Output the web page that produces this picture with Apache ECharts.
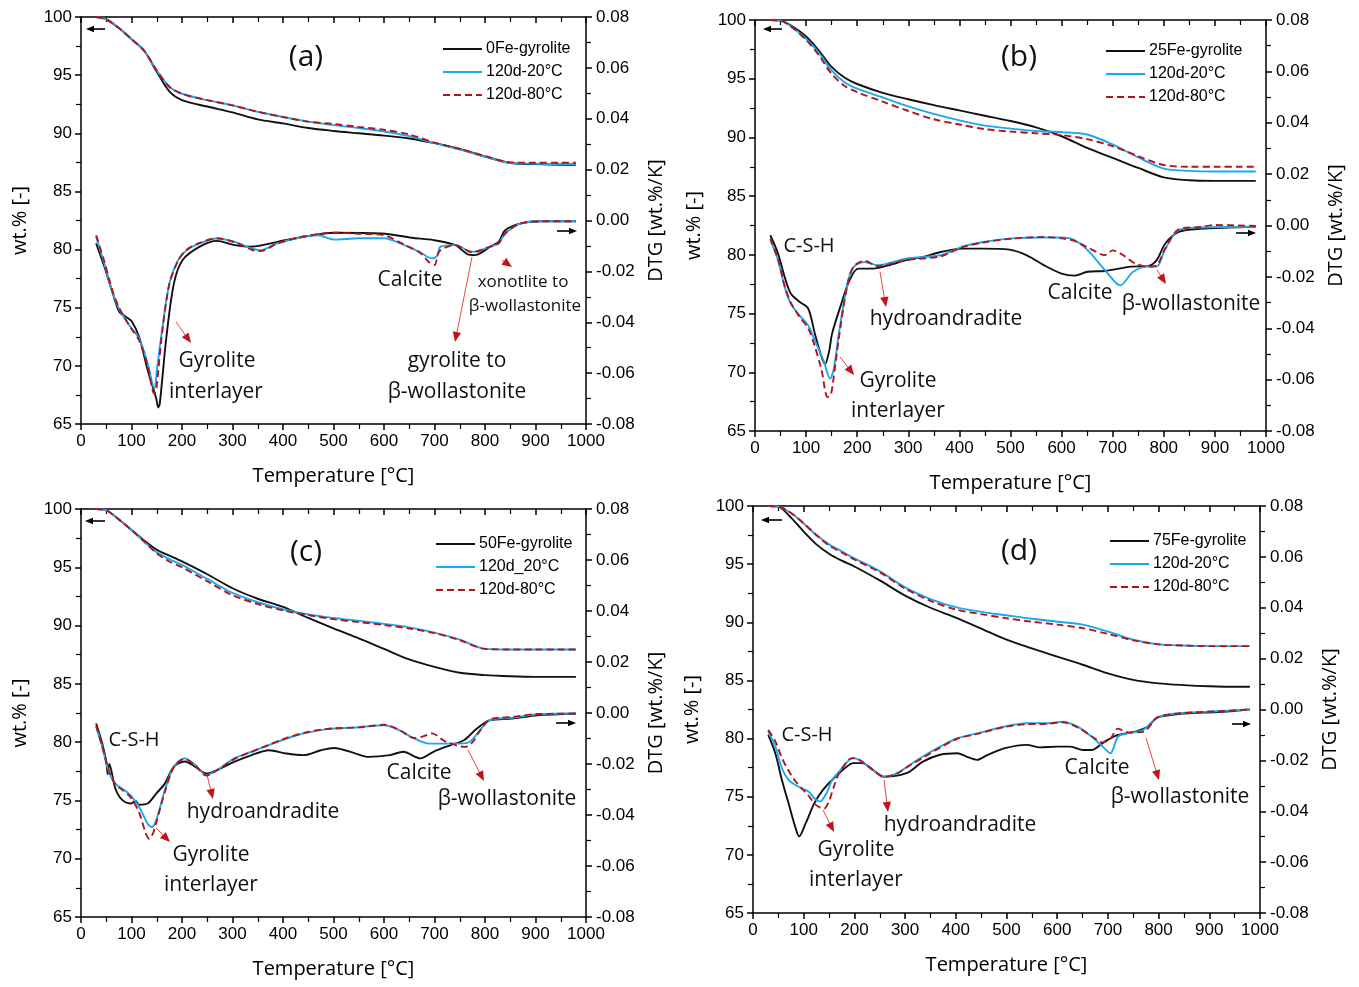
<!DOCTYPE html>
<html lang="en">
<head>
<meta charset="UTF-8">
<title>TG / DTG gyrolite</title>
<script src="https://cdn.jsdelivr.net/npm/echarts@6/dist/echarts.min.js"></script>
<style>html,body{margin:0;background:#fff}</style>
</head>
<body>
<div id="main" style="width:1359px;height:987px"></div>
<script>
// temperature grid shared by the TG curves
var tgT = [30, 50, 75, 100, 125, 150, 175, 200, 250, 300, 350, 400, 450, 500, 550, 600, 650, 700, 750, 800, 850, 900, 950, 980];

// (a) 0Fe
var tgA_fe = [100, 99.8, 99.05, 98.1, 97.1, 95.3, 93.6, 92.85, 92.3, 91.8, 91.2, 90.85, 90.45, 90.2, 90.0, 89.8, 89.55, 89.15, 88.65, 88.0, 87.45, 87.35, 87.3, 87.3];
var tgA_20 = [100, 99.8, 99.05, 98.1, 97.1, 95.4, 94.0, 93.4, 92.85, 92.4, 91.85, 91.4, 91.0, 90.7, 90.45, 90.15, 89.75, 89.15, 88.6, 88.0, 87.45, 87.38, 87.36, 87.36];
var tgA_80 = [100, 99.8, 99.05, 98.1, 97.1, 95.4, 94.0, 93.4, 92.85, 92.4, 91.85, 91.4, 91.0, 90.8, 90.55, 90.3, 89.9, 89.2, 88.65, 88.05, 87.5, 87.47, 87.47, 87.47];
var dtgA_fe = [[30,-0.009],[46,-0.018],[63,-0.0287],[76,-0.036],[90,-0.038],[100,-0.0395],[115,-0.0457],[132,-0.0588],[149,-0.070],[153,-0.0735],[156,-0.072],[169,-0.046],[184,-0.0247],[201,-0.0156],[235,-0.0103],[269,-0.008],[304,-0.0097],[338,-0.0103],[389,-0.0084],[441,-0.0064],[501,-0.0048],[595,-0.0051],[655,-0.0068],[698,-0.0077],[741,-0.0097],[765,-0.0132],[780,-0.0136],[792,-0.0127],[810,-0.0103],[827,-0.0084],[840,-0.0038],[870,-0.0012],[913,-0.0003],[980,-0.0003]];
var dtgA_20 = [[30,-0.0064],[46,-0.0169],[63,-0.0287],[76,-0.035],[98,-0.0419],[115,-0.0463],[132,-0.0562],[145,-0.066],[151,-0.0575],[160,-0.044],[175,-0.0247],[192,-0.0156],[209,-0.0117],[235,-0.009],[269,-0.0071],[304,-0.0084],[338,-0.011],[355,-0.0117],[389,-0.009],[441,-0.0064],[470,-0.0058],[501,-0.0075],[550,-0.007],[600,-0.007],[640,-0.0097],[670,-0.0123],[695,-0.0149],[705,-0.014],[712,-0.0103],[741,-0.0097],[775,-0.0123],[810,-0.0103],[827,-0.009],[840,-0.0051],[870,-0.0012],[913,-0.0003],[980,-0.0003]];
var dtgA_80 = [[30,-0.0058],[46,-0.016],[63,-0.028],[76,-0.0345],[98,-0.042],[115,-0.047],[132,-0.057],[145,-0.068],[149,-0.0665],[160,-0.045],[175,-0.025],[192,-0.016],[209,-0.0115],[235,-0.0088],[269,-0.007],[304,-0.0085],[338,-0.0115],[355,-0.012],[389,-0.009],[441,-0.0063],[501,-0.0048],[550,-0.0052],[600,-0.0058],[640,-0.0095],[670,-0.0125],[690,-0.0165],[700,-0.0175],[710,-0.012],[741,-0.0097],[775,-0.0125],[810,-0.0103],[827,-0.009],[840,-0.005],[870,-0.0012],[913,-0.0003],[980,-0.0003]];

// (b) 25Fe
var tgB_fe = [100, 99.95, 99.4, 98.6, 97.4, 96.0, 95.1, 94.55, 93.8, 93.25, 92.75, 92.3, 91.85, 91.4, 90.85, 90.1, 89.1, 88.25, 87.4, 86.6, 86.35, 86.3, 86.3, 86.3];
var tgB_20 = [100, 99.95, 99.3, 98.4, 97.2, 95.7, 94.7, 94.15, 93.4, 92.65, 92.0, 91.45, 91.0, 90.75, 90.55, 90.45, 90.25, 89.4, 88.3, 87.35, 87.15, 87.1, 87.1, 87.1];
var tgB_80 = [100, 99.95, 99.3, 98.3, 97.0, 95.4, 94.4, 93.85, 93.05, 92.25, 91.55, 91.1, 90.7, 90.5, 90.35, 90.2, 89.85, 89.25, 88.4, 87.65, 87.5, 87.5, 87.5, 87.5];
var dtgB_fe = [[30,-0.0038],[45,-0.0109],[58,-0.020],[70,-0.0265],[87,-0.0297],[104,-0.0323],[117,-0.042],[130,-0.051],[137,-0.054],[145,-0.049],[151,-0.042],[168,-0.031],[185,-0.0213],[202,-0.0168],[227,-0.0168],[261,-0.0155],[295,-0.0135],[329,-0.0122],[363,-0.0103],[405,-0.009],[447,-0.009],[498,-0.0094],[532,-0.0116],[566,-0.0155],[600,-0.0187],[625,-0.0195],[651,-0.018],[685,-0.0177],[736,-0.016],[769,-0.0158],[786,-0.0135],[803,-0.007],[829,-0.0025],[871,-0.0013],[980,-0.0005]];
var dtgB_20 = [[30,-0.0057],[45,-0.0135],[58,-0.0239],[70,-0.0304],[87,-0.035],[104,-0.0388],[117,-0.0447],[134,-0.0525],[147,-0.0596],[155,-0.055],[164,-0.042],[181,-0.0226],[193,-0.0161],[215,-0.0142],[240,-0.0155],[295,-0.0129],[363,-0.0116],[405,-0.0083],[447,-0.0064],[498,-0.0051],[566,-0.0047],[600,-0.0047],[625,-0.0057],[651,-0.0096],[685,-0.0174],[715,-0.0233],[740,-0.018],[769,-0.016],[786,-0.016],[803,-0.009],[829,-0.0018],[871,-0.0008],[980,-0.0005]];
var dtgB_80 = [[30,-0.005],[45,-0.013],[58,-0.0235],[70,-0.030],[87,-0.0355],[104,-0.040],[117,-0.047],[130,-0.056],[142,-0.0668],[148,-0.066],[152,-0.062],[164,-0.044],[181,-0.023],[193,-0.016],[215,-0.0138],[240,-0.0158],[295,-0.0135],[363,-0.012],[405,-0.0085],[447,-0.0066],[498,-0.0052],[566,-0.0045],[600,-0.005],[625,-0.006],[651,-0.0085],[685,-0.0115],[700,-0.0097],[720,-0.0115],[744,-0.0148],[770,-0.016],[786,-0.0155],[803,-0.009],[829,-0.0015],[871,-0.0006],[900,0.0002],[980,-0.0002]];

// (c) 50Fe
var tgC_fe = [100, 99.9, 99.1, 98.2, 97.3, 96.5, 96.0, 95.5, 94.4, 93.2, 92.3, 91.6, 90.65, 89.75, 88.9, 88.0, 87.1, 86.45, 85.95, 85.75, 85.65, 85.6, 85.6, 85.6];
var tgC_20 = [100, 99.9, 99.1, 98.2, 97.2, 96.3, 95.7, 95.2, 94.0, 92.8, 92.0, 91.4, 90.95, 90.65, 90.4, 90.15, 89.85, 89.4, 88.8, 88.0, 87.95, 87.95, 87.95, 87.95];
var tgC_80 = [100, 99.9, 99.1, 98.2, 97.2, 96.2, 95.5, 95.0, 93.8, 92.6, 91.85, 91.3, 90.9, 90.55, 90.3, 90.05, 89.75, 89.35, 88.75, 88.0, 87.95, 87.95, 87.95, 87.95];
var dtgC_fe = [[30,-0.0041],[42,-0.012],[50,-0.019],[53,-0.024],[56,-0.020],[68,-0.0296],[81,-0.034],[98,-0.0355],[108,-0.0345],[115,-0.036],[132,-0.0355],[149,-0.0316],[166,-0.0277],[184,-0.021],[205,-0.019],[226,-0.021],[248,-0.0237],[269,-0.0224],[304,-0.0191],[338,-0.0165],[372,-0.0146],[407,-0.0159],[441,-0.0165],[475,-0.0146],[501,-0.0137],[544,-0.0159],[569,-0.0172],[612,-0.0165],[638,-0.0152],[672,-0.0178],[698,-0.0152],[732,-0.0126],[758,-0.0107],[784,-0.0061],[810,-0.0028],[853,-0.0022],[904,-0.0009],[980,-0.0002]];
var dtgC_20 = [[30,-0.0054],[42,-0.0133],[55,-0.0231],[68,-0.0277],[81,-0.0296],[98,-0.0322],[115,-0.0368],[132,-0.0434],[140,-0.0447],[149,-0.042],[166,-0.0303],[184,-0.021],[205,-0.0178],[226,-0.0204],[248,-0.0244],[269,-0.0224],[304,-0.0178],[338,-0.0152],[372,-0.0126],[407,-0.01],[441,-0.008],[475,-0.0067],[501,-0.0061],[544,-0.0057],[569,-0.0052],[600,-0.0048],[630,-0.0067],[660,-0.01],[690,-0.012],[720,-0.012],[750,-0.012],[770,-0.0113],[790,-0.0067],[810,-0.0028],[853,-0.0019],[904,-0.0005],[980,-0.0002]];
var dtgC_80 = [[30,-0.005],[42,-0.013],[55,-0.0225],[68,-0.028],[81,-0.030],[98,-0.033],[115,-0.039],[128,-0.047],[135,-0.0493],[143,-0.047],[149,-0.043],[166,-0.031],[184,-0.0212],[205,-0.018],[226,-0.0205],[248,-0.0245],[269,-0.0225],[304,-0.018],[338,-0.0152],[372,-0.0125],[407,-0.0098],[441,-0.0078],[475,-0.0065],[501,-0.006],[544,-0.0057],[569,-0.0052],[600,-0.0046],[630,-0.0066],[660,-0.0098],[680,-0.009],[695,-0.008],[720,-0.011],[760,-0.0133],[775,-0.0115],[790,-0.007],[810,-0.0025],[853,-0.0016],[904,-0.0004],[980,-0.0003]];

// (d) 75Fe
var tgD_fe = [100, 99.95, 99.0, 97.8, 96.7, 95.9, 95.3, 94.8, 93.6, 92.3, 91.25, 90.4, 89.45, 88.5, 87.75, 87.05, 86.35, 85.6, 85.05, 84.75, 84.6, 84.5, 84.45, 84.45];
var tgD_20 = [100, 99.95, 99.4, 98.5, 97.5, 96.7, 96.1, 95.5, 94.4, 93.0, 92.0, 91.3, 90.9, 90.6, 90.3, 90.05, 89.8, 89.2, 88.5, 88.1, 88.0, 87.95, 87.95, 87.95];
var tgD_80 = [100, 99.95, 99.4, 98.5, 97.5, 96.6, 96.0, 95.4, 94.3, 92.9, 91.85, 91.1, 90.7, 90.35, 90.05, 89.8, 89.5, 89.0, 88.45, 88.1, 88.0, 87.95, 87.95, 87.95];
var dtgD_fe = [[30,-0.01],[44,-0.0172],[57,-0.0277],[70,-0.0368],[83,-0.046],[91,-0.0499],[104,-0.0447],[121,-0.0368],[138,-0.0316],[156,-0.0277],[181,-0.0231],[198,-0.0211],[215,-0.0211],[241,-0.0244],[258,-0.0264],[284,-0.026],[309,-0.0244],[335,-0.0205],[369,-0.0178],[403,-0.0172],[421,-0.0185],[442,-0.0198],[463,-0.0178],[497,-0.0152],[540,-0.0139],[566,-0.0149],[600,-0.0146],[626,-0.0146],[651,-0.0159],[668,-0.0159],[694,-0.0126],[720,-0.01],[754,-0.0087],[779,-0.0067],[797,-0.0032],[839,-0.0018],[925,-0.0009],[980,0]];
var dtgD_20 = [[30,-0.0087],[44,-0.0146],[57,-0.0231],[70,-0.0277],[83,-0.0296],[96,-0.031],[110,-0.0323],[121,-0.0349],[132,-0.0362],[145,-0.0329],[156,-0.0277],[170,-0.0244],[190,-0.0198],[200,-0.0192],[215,-0.0205],[241,-0.0244],[258,-0.0266],[284,-0.025],[309,-0.0218],[335,-0.0185],[369,-0.0146],[403,-0.0113],[442,-0.0094],[497,-0.0067],[540,-0.0054],[583,-0.0054],[610,-0.0048],[640,-0.0067],[668,-0.0107],[690,-0.0146],[705,-0.0172],[720,-0.0107],[740,-0.0094],[770,-0.008],[797,-0.0032],[839,-0.0015],[925,-0.0006],[980,0]];
var dtgD_80 = [[30,-0.008],[44,-0.0125],[57,-0.019],[70,-0.024],[83,-0.028],[96,-0.031],[110,-0.034],[121,-0.037],[132,-0.0385],[140,-0.039],[150,-0.036],[160,-0.030],[170,-0.025],[190,-0.0195],[200,-0.019],[215,-0.0205],[241,-0.0245],[258,-0.0265],[284,-0.0252],[309,-0.022],[335,-0.019],[369,-0.015],[403,-0.0115],[442,-0.0096],[497,-0.0068],[540,-0.0058],[583,-0.0056],[610,-0.005],[640,-0.007],[668,-0.0105],[690,-0.013],[705,-0.0115],[720,-0.0075],[740,-0.009],[770,-0.0088],[797,-0.0032],[839,-0.0016],[925,-0.0006],[980,0]];

var namesA = ['0Fe-gyrolite', '120d-20°C', '120d-80°C'];
var namesB = ['25Fe-gyrolite', '120d-20°C', '120d-80°C'];
var namesC = ['50Fe-gyrolite', '120d_20°C', '120d-80°C'];
var namesD = ['75Fe-gyrolite', '120d-20°C', '120d-80°C'];

var FONT_NUM = '"Liberation Sans", Arial, sans-serif';
var FONT_TXT = '"Open Sans", "Noto Sans", sans-serif';
var COLORS = ['#111111', '#1ba9ee', '#b3141c'];

var panels = [
    {box: [81, 17, 505, 407], names: namesA, tg: [tgA_fe, tgA_20, tgA_80], dtg: [dtgA_fe, dtgA_20, dtgA_80], legend: [437, 36]},
    {box: [755, 20, 511, 411], names: namesB, tg: [tgB_fe, tgB_20, tgB_80], dtg: [dtgB_fe, dtgB_20, dtgB_80], legend: [1100, 38]},
    {box: [81, 509, 505, 408], names: namesC, tg: [tgC_fe, tgC_20, tgC_80], dtg: [dtgC_fe, dtgC_20, dtgC_80], legend: [430, 531]},
    {box: [753, 506, 507, 407], names: namesD, tg: [tgD_fe, tgD_20, tgD_80], dtg: [dtgD_fe, dtgD_20, dtgD_80], legend: [1104, 528]}
];

// annotation texts: [text, x, y, size]
var labels = [
    ['(a)', 306, 57, 30], ['Gyrolite', 217, 361, 21], ['interlayer', 216, 392, 21], ['Calcite', 410, 280, 21],
    ['xonotlite to', 523, 282, 17], ['β-wollastonite', 525, 306, 17], ['gyrolite to', 457, 361, 21], ['β-wollastonite', 457, 392, 21],
    ['(b)', 1019, 57, 30], ['C-S-H', 809, 246, 20], ['hydroandradite', 946, 319, 21], ['Gyrolite', 898, 381, 21],
    ['interlayer', 898, 411, 21], ['Calcite', 1080, 293, 21], ['β-wollastonite', 1191, 304, 21],
    ['(c)', 306, 552, 30], ['C-S-H', 134, 740, 20], ['hydroandradite', 263, 812, 21], ['Gyrolite', 211, 855, 21],
    ['interlayer', 211, 885, 21], ['Calcite', 419, 773, 21], ['β-wollastonite', 507, 799, 21],
    ['(d)', 1019, 551, 30], ['C-S-H', 807, 735, 20], ['hydroandradite', 960, 825, 21], ['Gyrolite', 856, 850, 21],
    ['interlayer', 856, 880, 21], ['Calcite', 1097, 768, 21], ['β-wollastonite', 1180, 797, 21]
];
// red pointer arrows: [x1, y1, x2, y2]
var pointers = [
    [176, 322, 191, 343], [472, 257, 455, 342], [502, 260, 512, 267],
    [880, 272, 886, 307], [840, 357, 854, 375], [1157, 270, 1166, 284],
    [207, 775, 213, 799], [156, 828, 170, 842], [468, 750, 484, 781],
    [884, 780, 888, 812], [823, 810, 834, 832], [1146, 738, 1159, 780]
];
// black axis arrows
var axisArrows = [
    [105, 29, 86, 29], [557, 231, 577, 231],
    [782, 29, 763, 29], [1236, 233, 1256, 233],
    [105, 521, 85, 521], [556, 723, 576, 723],
    [782, 520, 761, 520], [1232, 724, 1251, 724]
];

function arrowEls(a, lineColor, headColor, lw, head) {
    var x1 = a[0], y1 = a[1], x2 = a[2], y2 = a[3];
    var dx = x2 - x1, dy = y2 - y1, len = Math.sqrt(dx * dx + dy * dy);
    var ux = dx / len, uy = dy / len;
    var bx = x2 - ux * head, by = y2 - uy * head;
    var w = head * 0.42;
    return [
        {type: 'line', shape: {x1: x1, y1: y1, x2: bx + ux * 1, y2: by + uy * 1}, style: {stroke: lineColor, lineWidth: lw}, silent: true},
        {type: 'polygon', shape: {points: [[x2, y2], [bx - uy * w, by + ux * w], [bx + uy * w, by - ux * w]]}, style: {fill: headColor}, silent: true}
    ];
}

var grids = [], xAxes = [], yAxes = [], series = [], legends = [], graphics = [];
var axisLineStyle = {color: '#000', width: 1.5};
panels.forEach(function (p, i) {
    grids.push({left: p.box[0], top: p.box[1], width: p.box[2], height: p.box[3]});
    xAxes.push({
        gridIndex: i, type: 'value', min: 0, max: 1000, interval: 100, position: 'bottom',
        name: 'Temperature [°C]', nameLocation: 'middle', nameGap: 42,
        nameTextStyle: {fontFamily: FONT_TXT, fontSize: 20, color: '#000'},
        axisLine: {onZero: false, lineStyle: axisLineStyle},
        axisTick: {length: 6, lineStyle: {color: '#000', width: 1.5}},
        minorTick: {show: true, splitNumber: 2, length: 5, lineStyle: {color: '#000', width: 1.2}},
        splitLine: {show: false},
        axisLabel: {fontFamily: FONT_NUM, fontSize: 17, color: '#000', margin: 9, formatter: function (v) { return String(v); }}
    });
    xAxes.push({
        gridIndex: i, type: 'value', min: 0, max: 1000, interval: 100, position: 'top',
        axisLine: {onZero: false, lineStyle: axisLineStyle},
        axisTick: {inside: true, length: 6, lineStyle: {color: '#000', width: 1.5}},
        minorTick: {show: true, splitNumber: 2, length: 5, lineStyle: {color: '#000', width: 1.2}},
        splitLine: {show: false}, axisLabel: {show: false}
    });
    yAxes.push({
        gridIndex: i, type: 'value', min: 65, max: 100, interval: 5, position: 'left',
        name: 'wt.% [-]', nameLocation: 'middle', nameRotate: 90, nameGap: 51,
        nameTextStyle: {fontFamily: FONT_TXT, fontSize: 20, color: '#000'},
        axisLine: {show: true, onZero: false, lineStyle: axisLineStyle},
        axisTick: {length: 6, lineStyle: {color: '#000', width: 1.5}},
        minorTick: {show: true, splitNumber: 2, length: 5, lineStyle: {color: '#000', width: 1.2}},
        splitLine: {show: false},
        axisLabel: {fontFamily: FONT_NUM, fontSize: 17, color: '#000', margin: 9}
    });
    yAxes.push({
        gridIndex: i, type: 'value', min: -0.08, max: 0.08, interval: 0.02, position: 'right',
        name: 'DTG [wt.%/K]', nameLocation: 'middle', nameRotate: 90, nameGap: 60,
        nameTextStyle: {fontFamily: FONT_TXT, fontSize: 20, color: '#000'},
        axisLine: {show: true, onZero: false, lineStyle: axisLineStyle},
        axisTick: {length: 6, lineStyle: {color: '#000', width: 1.5}},
        minorTick: {show: true, splitNumber: 2, length: 5, lineStyle: {color: '#000', width: 1.2}},
        splitLine: {show: false},
        axisLabel: {
            fontFamily: FONT_NUM, fontSize: 17, color: '#000', margin: 10,
            formatter: function (v) { return Math.abs(v) < 1e-9 ? '0.00' : v.toFixed(2); }
        }
    });
    [0, 1, 2].forEach(function (k) {
        var ls = {color: COLORS[k], width: 1.9, type: k === 2 ? [7, 4] : 'solid'};
        series.push({
            name: p.names[k], type: 'line', xAxisIndex: 2 * i, yAxisIndex: 2 * i,
            data: tgT.map(function (t, j) { return [t, p.tg[k][j]]; }),
            showSymbol: false, symbol: 'none', smooth: 0.3, lineStyle: ls, itemStyle: {color: COLORS[k]}, z: 2 + k
        });
        series.push({
            name: p.names[k], type: 'line', xAxisIndex: 2 * i, yAxisIndex: 2 * i + 1,
            data: p.dtg[k],
            showSymbol: false, symbol: 'none', smooth: 0.3, lineStyle: ls, itemStyle: {color: COLORS[k]}, z: 2 + k
        });
    });
    legends.push({
        data: p.names, orient: 'vertical', left: p.legend[0], top: p.legend[1],
        itemWidth: 39, itemHeight: 14, itemGap: 7, selectedMode: false,
        itemStyle: {opacity: 0},
        textStyle: {fontFamily: FONT_NUM, fontSize: 16, color: '#000', padding: [0, 0, 0, -1]}
    });
});

labels.forEach(function (l) {
    graphics.push({
        type: 'text', x: l[1], y: l[2], silent: true,
        style: {text: l[0], font: l[3] + 'px ' + FONT_TXT, fill: '#111', textAlign: 'center', textVerticalAlign: 'middle'}
    });
});
pointers.forEach(function (a) { graphics = graphics.concat(arrowEls(a, '#e5473f', '#c0141c', 1, 10)); });
axisArrows.forEach(function (a) { graphics = graphics.concat(arrowEls(a, '#000', '#000', 1.6, 8)); });

var chart = echarts.init(document.getElementById('main'));
chart.setOption({
    animation: false,
    backgroundColor: '#fff',
    grid: grids,
    xAxis: xAxes,
    yAxis: yAxes,
    legend: legends,
    series: series,
    graphic: graphics
});
</script>
</body>
</html>
